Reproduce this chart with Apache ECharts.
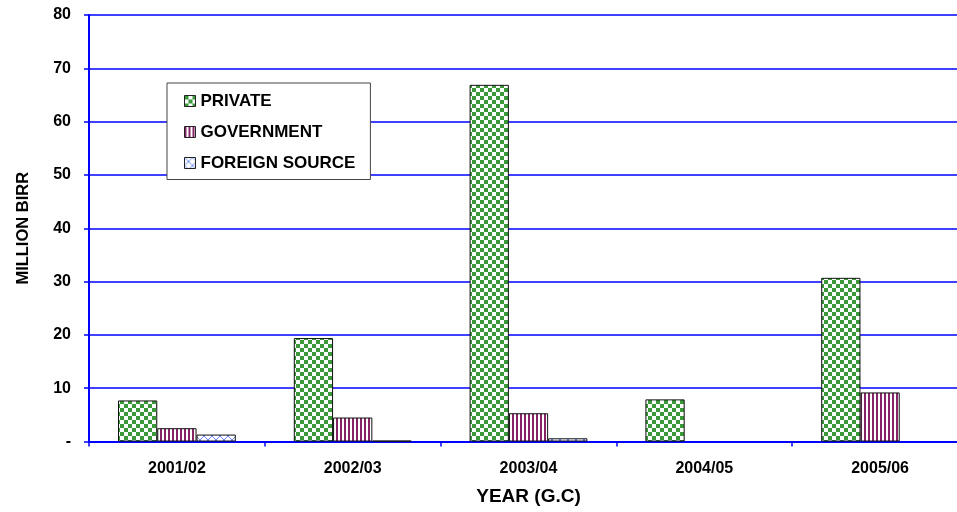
<!DOCTYPE html>
<html>
<head>
<meta charset="utf-8">
<script src="https://cdn.jsdelivr.net/npm/echarts@6/dist/echarts.min.js"></script>
<style>
html,body{margin:0;padding:0;background:#fff;}
#chart{width:957px;height:512px;}
</style>
</head>
<body>
<div id="chart"></div>
<script>
// ---- data ----
var categories = ['2001/02', '2002/03', '2003/04', '2004/05', '2005/06'];
var privateVals = [7.7, 19.4, 66.9, 7.9, 30.7];
var governmentVals = [2.5, 4.5, 5.3, 0, 9.2];
var foreignVals = [1.3, 0.15, 0.6, 0, 0];
var seriesNames = ['PRIVATE', 'GOVERNMENT', 'FOREIGN SOURCE'];
var yTicks = [0, 10, 20, 30, 40, 50, 60, 70, 80];

// ---- patterns ----
function makeCanvas(w, h, draw) {
  var c = document.createElement('canvas');
  c.width = w; c.height = h;
  var ctx = c.getContext('2d');
  ctx.fillStyle = '#ffffff';
  ctx.fillRect(0, 0, w, h);
  draw(ctx);
  return c;
}
var checker = makeCanvas(8, 8, function (ctx) {
  ctx.fillStyle = '#3a9a3a';
  ctx.fillRect(0, 0, 4, 4);
  ctx.fillRect(4, 4, 4, 4);
});
var stripes = makeCanvas(4, 4, function (ctx) {
  ctx.fillStyle = '#862565';
  ctx.fillRect(0, 0, 2, 4);
});
var lattice = makeCanvas(8, 8, function (ctx) {
  ctx.strokeStyle = '#6f8ff5';
  ctx.lineWidth = 1;
  ctx.beginPath();
  ctx.moveTo(0, 0); ctx.lineTo(8, 8);
  ctx.moveTo(8, 0); ctx.lineTo(0, 8);
  ctx.stroke();
});
var patterns = [checker, stripes, lattice];
var valueSets = [privateVals, governmentVals, foreignVals];

var font = 'Arial, "Liberation Sans", sans-serif';
var chart = echarts.init(document.getElementById('chart'), null, {renderer: 'canvas'});

var series = seriesNames.map(function (name, i) {
  return {
    name: name,
    type: 'bar',
    barGap: '0%',
    barCategoryGap: '33%',
    data: valueSets[i].map(function (v) { return v === 0 ? null : v; }),
    itemStyle: {
      color: {image: patterns[i], repeat: 'repeat'},
      borderColor: '#111',
      borderWidth: 1
    },
    emphasis: {disabled: true}
  };
});

chart.setOption({
  animation: false,
  backgroundColor: '#ffffff',
  grid: {left: 89, top: 15, bottom: 70.5, width: 879, containLabel: false, outerBoundsMode: 'none'},
  legend: {
    data: seriesNames,
    orient: 'vertical',
    left: 167,
    top: 83,
    backgroundColor: '#ffffff',
    borderColor: '#444',
    borderWidth: 1,
    padding: [9.5, 15, 8, 17],
    itemGap: 14,
    itemWidth: 11,
    itemHeight: 11,
    icon: 'rect',
    itemStyle: {borderColor: '#222', borderWidth: 1},
    textStyle: {fontFamily: font, fontWeight: 'bold', fontSize: 17, color: '#000'}
  },
  xAxis: {
    type: 'category',
    data: categories,
    name: 'YEAR (G.C)',
    nameLocation: 'middle',
    nameGap: 46,
    nameTextStyle: {fontFamily: font, fontWeight: 'bold', fontSize: 19, color: '#000'},
    axisLine: {lineStyle: {color: '#0000ff', width: 2}},
    axisTick: {show: true, length: 5, lineStyle: {color: '#0000ff', width: 1.5}},
    axisLabel: {fontFamily: font, fontWeight: 'bold', fontSize: 16, color: '#000', margin: 19},
    splitLine: {show: false}
  },
  yAxis: {
    type: 'value',
    min: 0,
    max: 80,
    interval: 10,
    name: 'MILLION BIRR',
    nameLocation: 'middle',
    nameGap: 57,
    nameTextStyle: {fontFamily: font, fontWeight: 'bold', fontSize: 16.5, color: '#000'},
    axisLine: {show: true, lineStyle: {color: '#0000ff', width: 2}},
    axisTick: {show: true, length: 5, lineStyle: {color: '#0000ff', width: 1.5}},
    axisLabel: {
      fontFamily: font, fontWeight: 'bold', fontSize: 16, color: '#000', margin: 18,
      formatter: function (v) { return yTicks.indexOf(v) >= 0 ? (v === 0 ? '-' : String(v)) : ''; }
    },
    splitLine: {show: true, lineStyle: {color: '#0000ff', width: 1.5}}
  },
  series: series
});
</script>
</body>
</html>
